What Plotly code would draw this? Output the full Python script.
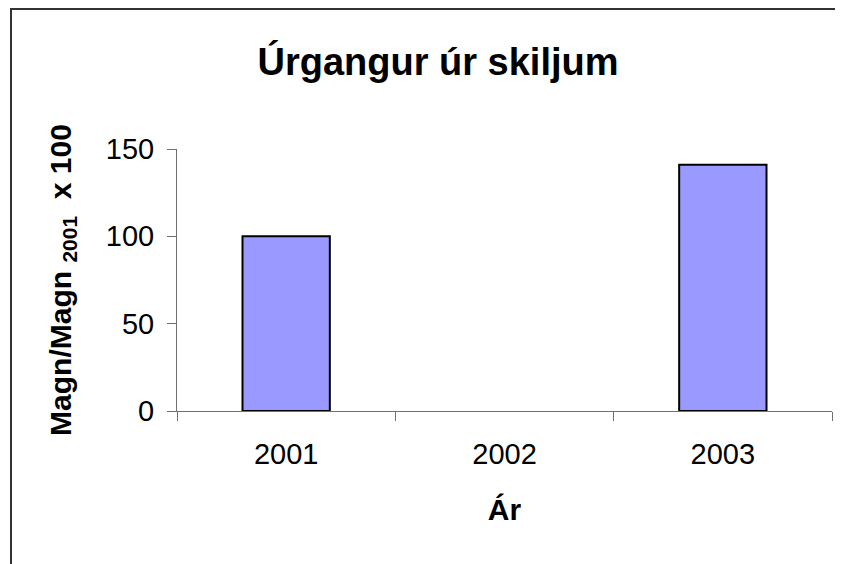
import plotly.graph_objects as go

# data
years = ['2001', '2002', '2003']
values = [100, None, 141]
y_ticks = [0, 50, 100, 150]

title = 'Úrgangur úr skiljum'
y_title = 'Magn/Magn <sub>2001</sub>  x 100'
x_title = 'Ár'

FONT = 'Liberation Sans, Arial, sans-serif'
# the page body adds an 8px margin, so the figure is a bit smaller
W, H = 835, 556
L, R, T, B = 169, 11, 141, 153  # plot area margins in px

fig = go.Figure(go.Bar(
    x=years,
    y=values,
    marker=dict(color='#9999FF', line=dict(color='black', width=2)),
    hoverinfo='x+y',
))

pw = W - L - R
ph = H - T - B


def px_x(x):
    return (x - L) / pw


def px_y(y):
    return (H - B - y) / ph


fig.update_layout(
    width=W,
    height=H,
    margin=dict(l=L, r=R, t=T, b=B),
    paper_bgcolor='white',
    plot_bgcolor='white',
    bargap=0.6,
    showlegend=False,
    font=dict(family=FONT, color='black'),
    title=dict(
        text='<b>' + title + '</b>',
        font=dict(size=38, family=FONT, color='black'),
        x=430 / W, xanchor='center', xref='container',
        y=1 - 54 / H, yanchor='middle', yref='container',
    ),
    xaxis=dict(
        type='category',
        showline=True, linecolor='#707070', linewidth=1,
        ticks='outside', ticklen=9, tickcolor='#707070',
        tickson='boundaries',
        tickfont=dict(size=29, family=FONT, color='black'),
        ticklabelstandoff=17,
        showgrid=False, zeroline=False,
        title=dict(text='<b>' + x_title + '</b>',
                   font=dict(size=30, family=FONT, color='black'),
                   standoff=30),
    ),
    yaxis=dict(
        range=[0, 150],
        tickvals=y_ticks,
        showline=True, linecolor='#707070', linewidth=1,
        ticks='outside', ticklen=9, tickcolor='#707070',
        tickfont=dict(size=29, family=FONT, color='black'),
        ticklabelstandoff=7,
        showgrid=False, zeroline=False,
        title=dict(text='<b>' + y_title + '</b>',
                   font=dict(size=30, family=FONT, color='black'),
                   standoff=25),
    ),
    shapes=[dict(
        type='rect', xref='paper', yref='paper',
        x0=px_x(3), x1=px_x(834), y0=px_y(570), y1=px_y(1),
        line=dict(color='#333333', width=2), fillcolor='rgba(0,0,0,0)',
        layer='below',
    )],
)

fig.write_html('out.html')
